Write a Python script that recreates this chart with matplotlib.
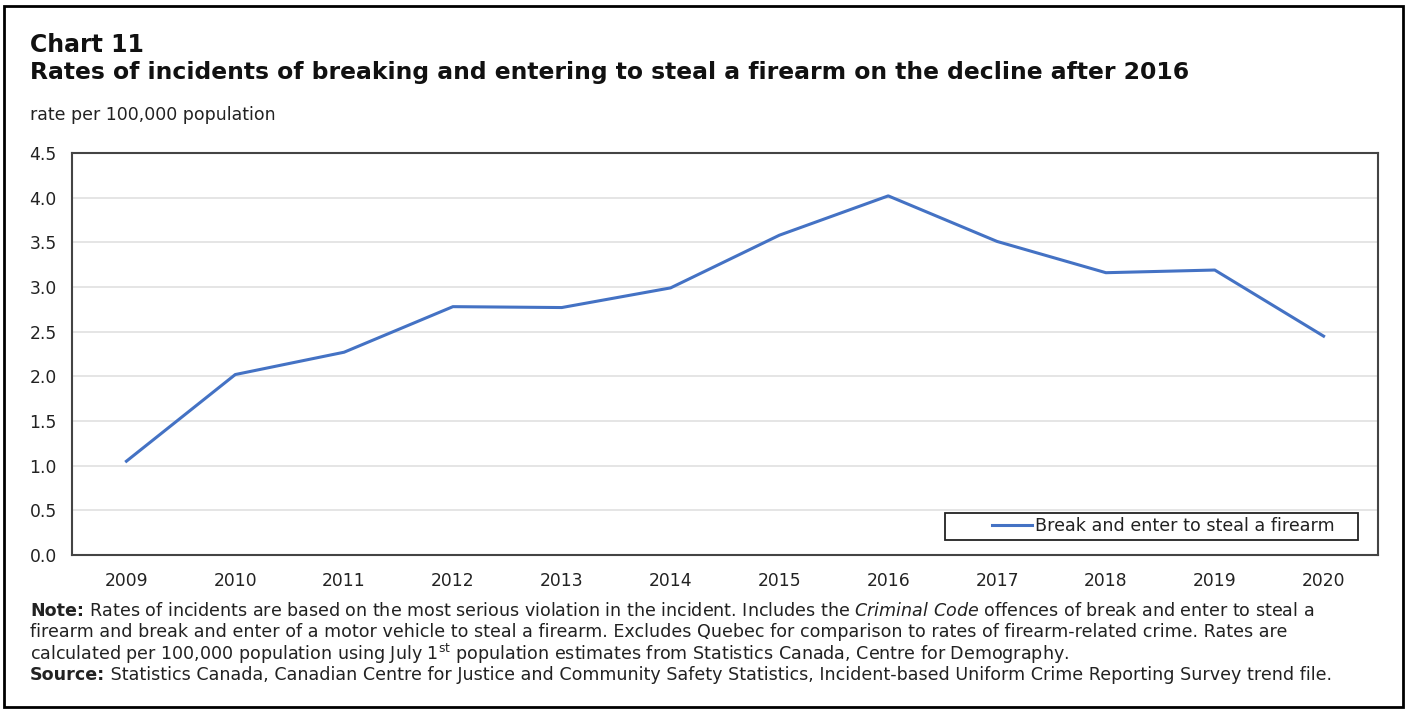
import matplotlib
matplotlib.use('Agg')
import matplotlib.pyplot as plt
from matplotlib.patches import Rectangle

years = ['2009', '2010', '2011', '2012', '2013', '2014', '2015', '2016', '2017', '2018', '2019', '2020']
rates = [1.05, 2.02, 2.27, 2.78, 2.77, 2.99, 3.58, 4.02, 3.51, 3.16, 3.19, 2.45]
series_name = 'Break and enter to steal a firearm'
yticks = [0.0, 0.5, 1.0, 1.5, 2.0, 2.5, 3.0, 3.5, 4.0, 4.5]

W, H = 1408, 711
fig = plt.figure(figsize=(W / 100, H / 100), dpi=100)
fig.patch.set_facecolor('white')

# outer frame round the whole chart
fig.patches.append(Rectangle((4 / W, 4 / H), 1 - 9 / W, 1 - 10 / H, transform=fig.transFigure,
                             fill=False, edgecolor='black', linewidth=2))

ax = fig.add_axes([72 / W, 1 - 555 / H, (1378 - 72) / W, (555 - 153) / H])
x = list(range(len(years)))
ax.plot(x, rates, color='#4472C4', linewidth=2.2, label=series_name)

ax.set_xlim(-0.5, len(years) - 0.5)
ax.set_ylim(0, 4.5)
ax.set_yticks(yticks)
ax.set_yticklabels([f'{v:.1f}' for v in yticks], fontsize=12.3, color='#222')
ax.set_xticks(x)
ax.set_xticklabels(years, fontsize=12.3, color='#222')
ax.tick_params(axis='both', length=0)
ax.tick_params(axis='x', pad=12)
ax.tick_params(axis='y', pad=11)
ax.grid(axis='y', color='#e3e3e3', linewidth=1.3)
ax.set_axisbelow(True)
for s in ax.spines.values():
    s.set_color('#444444')
    s.set_linewidth(1.5)

# legend: box drawn separately so the gap left of the handle matches
ax.add_patch(Rectangle((0.6685, 0.0373), 0.3162, 0.0672, transform=ax.transAxes,
                       fill=False, edgecolor='#222', linewidth=1.3, zorder=5))
leg = ax.legend(loc='center right', bbox_to_anchor=(0.9665, 0.071), fontsize=12.6, frameon=False,
                handlelength=2.3, handletextpad=0.15, borderpad=0, borderaxespad=0)
for t in leg.get_texts():
    t.set_color('#222')

# titles
fig.text(30 / W, 1 - 45 / H, 'Chart 11', fontsize=17, fontweight='bold', va='center', color='#111')
fig.text(30 / W, 1 - 73 / H,
         'Rates of incidents of breaking and entering to steal a firearm on the decline after 2016',
         fontsize=16.9, fontweight='bold', va='center', color='#111')
fig.text(30 / W, 1 - 115 / H, 'rate per 100,000 population', fontsize=12.5, va='center', color='#222')

# notes
note_fs = 12.6
note_lines = [
    ('Note:', r' Rates of incidents are based on the most serious violation in the incident. Includes the '
              r'$\it{Criminal\ Code}$ offences of break and enter to steal a'),
    ('', 'firearm and break and enter of a motor vehicle to steal a firearm. Excludes Quebec for comparison to '
         'rates of firearm-related crime. Rates are'),
    ('', r'calculated per 100,000 population using July 1$^{\rm st}$ population estimates from Statistics Canada, '
         'Centre for Demography.'),
    ('Source:', ' Statistics Canada, Canadian Centre for Justice and Community Safety Statistics, '
                'Incident-based Uniform Crime Reporting Survey trend file.'),
]
renderer = fig.canvas.get_renderer()
for i, (head, body) in enumerate(note_lines):
    y = 1 - (611 + i * 21.3) / H
    x0 = 30 / W
    if head:
        t = fig.text(x0, y, head, fontsize=note_fs, fontweight='bold', va='center', color='#222')
        bb = t.get_window_extent(renderer)
        x0 = bb.x1 / W
    fig.text(x0, y, body, fontsize=note_fs, va='center', color='#222')

fig.savefig('out.png', dpi=100, facecolor='white')
